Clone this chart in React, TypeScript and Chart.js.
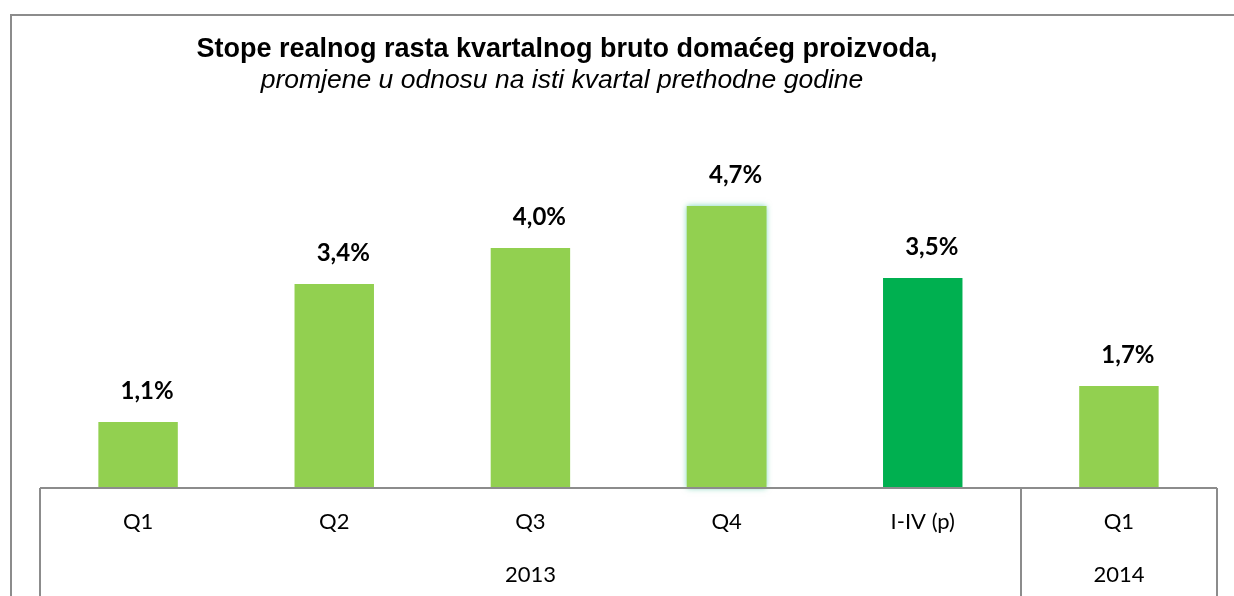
import React, { useEffect, useRef } from "react";
import { Chart, registerables } from "chart.js";

Chart.register(...registerables);

const categories = ["Q1", "Q2", "Q3", "Q4", "I-IV (p)", "Q1"];
const values = [1.1, 3.4, 4.0, 4.7, 3.5, 1.7];
const valueLabels = ["1,1%", "3,4%", "4,0%", "4,7%", "3,5%", "1,7%"];
const barColors = ["#92D050", "#92D050", "#92D050", "#92D050", "#00B050", "#92D050"];
const years = ["2013", "2014"];
const yearSpans = [[0, 4], [5, 5]];
const titleText = "Stope realnog rasta kvartalnog bruto domaćeg proizvoda,";
const subtitleText = "promjene u odnosu na isti kvartal prethodne godine";

const GREY = "#8c8c8c";

const overlay = {
  id: "overlay",
  beforeDatasetsDraw(chart: any) {
    const ctx = chart.ctx;
    const meta = chart.getDatasetMeta(0);
    const el = meta.data[3];
    if (el) {
      const w = el.width;
      ctx.save();
      ctx.shadowColor = "rgba(0,176,120,0.55)";
      ctx.shadowBlur = 6;
      ctx.fillStyle = "#92D050";
      ctx.fillRect(el.x - w / 2, el.y, w, el.base - el.y);
      ctx.restore();
    }
  },
  afterDraw(chart: any) {
    const ctx = chart.ctx;
    const area = chart.chartArea;
    const xs = chart.scales.x;
    const H = chart.height;
    ctx.save();
    // outer border
    ctx.strokeStyle = GREY;
    ctx.lineWidth = 2;
    ctx.beginPath();
    ctx.moveTo(11, H);
    ctx.lineTo(11, 15);
    ctx.lineTo(chart.width, 15);
    ctx.stroke();

    // title
    ctx.fillStyle = "#000";
    ctx.textAlign = "center";
    ctx.textBaseline = "middle";
    ctx.font = "bold 27px 'Liberation Sans', Arial, sans-serif";
    ctx.fillText(titleText, 567, 50);
    ctx.font = "italic 26.5px 'Liberation Sans', Arial, sans-serif";
    ctx.fillText(subtitleText, 562, 81);

    // axis line
    ctx.strokeStyle = GREY;
    ctx.lineWidth = 2;
    ctx.beginPath();
    ctx.moveTo(area.left, area.bottom);
    ctx.lineTo(area.right, area.bottom);
    ctx.stroke();

    // separators
    const half = (xs.getPixelForValue(1) - xs.getPixelForValue(0)) / 2;
    const seps = [xs.getPixelForValue(0) - half, xs.getPixelForValue(5) - half, xs.getPixelForValue(5) + half];
    ctx.lineWidth = 2;
    seps.forEach((sx: number) => {
      ctx.beginPath();
      ctx.moveTo(Math.round(sx), area.bottom);
      ctx.lineTo(Math.round(sx), H);
      ctx.stroke();
    });

    // category labels
    ctx.fillStyle = "#000";
    ctx.font = "22px Lato, 'Open Sans', sans-serif";
    categories.forEach((c, i) => {
      ctx.fillText(c, xs.getPixelForValue(i), 522);
    });
    years.forEach((y, i) => {
      const [a, b] = yearSpans[i];
      const cx = (xs.getPixelForValue(a) - half + xs.getPixelForValue(b) + half) / 2;
      ctx.fillText(y, cx, 575);
    });

    // data labels
    const meta = chart.getDatasetMeta(0);
    ctx.font = "bold 24px Lato, 'Open Sans', sans-serif";
    meta.data.forEach((el: any, i: number) => {
      ctx.fillText(valueLabels[i], el.x + 9, el.y - 31);
    });
    ctx.restore();
  },
};

export default function App() {
  const ref = useRef<HTMLCanvasElement>(null);
  useEffect(() => {
    if (!ref.current) return;
    const chart = new Chart(ref.current, {
      type: "bar",
      data: {
        labels: categories,
        datasets: [
          {
            data: values,
            backgroundColor: barColors,
            borderWidth: 0,
            barPercentage: 0.405,
            categoryPercentage: 1,
          },
        ],
      },
      options: {
        animation: false,
        responsive: true,
        maintainAspectRatio: false,
        layout: { padding: { left: 40, right: 17, top: 128, bottom: 108 } },
        plugins: { legend: { display: false }, tooltip: { enabled: false }, title: { display: false } },
        scales: {
          x: { display: false },
          y: { display: false, min: 0, max: 6 },
        },
      },
      plugins: [overlay],
    });
    return () => chart.destroy();
  }, []);
  return (
    <div style={{ position: "fixed", left: 0, top: 0, width: 1234, height: 596, background: "#fff" }}>
      <canvas ref={ref} />
    </div>
  );
}
